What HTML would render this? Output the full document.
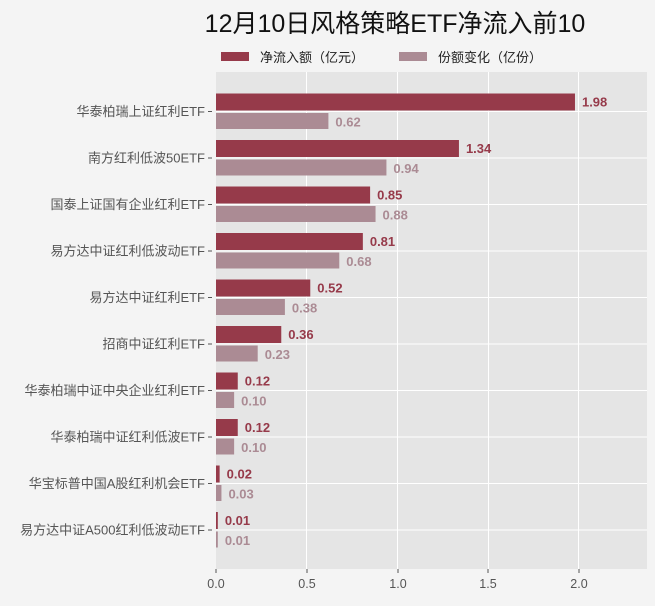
<!DOCTYPE html>
<html><head><meta charset="utf-8"><style>
html,body{margin:0;padding:0;background:#f4f4f4;}
svg{display:block;font-family:"Liberation Sans","Noto Sans CJK SC",sans-serif;}
</style></head><body>
<svg width="655" height="606" viewBox="0 0 655 606" xmlns="http://www.w3.org/2000/svg">
<rect width="655" height="606" fill="#f4f4f4"/>
<text x="395" y="32" text-anchor="middle" font-size="25" fill="#111">12月10日风格策略ETF净流入前10</text>
<rect x="221" y="52" width="28" height="9" fill="#963a4a"/>
<text x="260" y="62" font-size="13" fill="#222">净流入额（亿元）</text>
<rect x="399" y="52" width="28" height="9" fill="#ab8b94"/>
<text x="438" y="62" font-size="13" fill="#222">份额变化（亿份）</text>
<rect x="216" y="72" width="431" height="497" fill="#e5e5e5"/>
<g stroke="#fff" stroke-width="1">
<line x1="306.5" y1="72" x2="306.5" y2="569"/><line x1="397.5" y1="72" x2="397.5" y2="569"/>
<line x1="488.5" y1="72" x2="488.5" y2="569"/><line x1="578.5" y1="72" x2="578.5" y2="569"/>
<line x1="216" y1="111.5" x2="647" y2="111.5"/><line x1="216" y1="158" x2="647" y2="158"/>
<line x1="216" y1="204.5" x2="647" y2="204.5"/><line x1="216" y1="251" x2="647" y2="251"/>
<line x1="216" y1="297.5" x2="647" y2="297.5"/><line x1="216" y1="344" x2="647" y2="344"/>
<line x1="216" y1="390.5" x2="647" y2="390.5"/><line x1="216" y1="437" x2="647" y2="437"/>
<line x1="216" y1="483.5" x2="647" y2="483.5"/><line x1="216" y1="530" x2="647" y2="530"/>
</g>
<g id="bars" font-size="13" font-weight="bold"></g>
<g font-size="12.5" fill="#555" text-anchor="middle">
<text x="216" y="588">0.0</text><text x="307" y="588">0.5</text><text x="398" y="588">1.0</text><text x="488" y="588">1.5</text><text x="579" y="588">2.0</text>
</g>
<g stroke="#555"><line x1="216" y1="569" x2="216" y2="573"/><line x1="307" y1="569" x2="307" y2="573"/><line x1="398" y1="569" x2="398" y2="573"/><line x1="488" y1="569" x2="488" y2="573"/><line x1="579" y1="569" x2="579" y2="573"/></g>
<g id="labels" font-size="13" fill="#555" text-anchor="end"></g>
</svg>
<script>
var d=[["华泰柏瑞上证红利ETF",1.98,0.62],["南方红利低波50ETF",1.34,0.94],["国泰上证国有企业红利ETF",0.85,0.88],["易方达中证红利低波动ETF",0.81,0.68],["易方达中证红利ETF",0.52,0.38],["招商中证红利ETF",0.36,0.23],["华泰柏瑞中证中央企业红利ETF",0.12,0.10],["华泰柏瑞中证红利低波ETF",0.12,0.10],["华宝标普中国A股红利机会ETF",0.02,0.03],["易方达中证A500红利低波动ETF",0.01,0.01]];
var ns="http://www.w3.org/2000/svg",b=document.getElementById("bars"),l=document.getElementById("labels");
function el(p,t,a,txt){var e=document.createElementNS(ns,t);for(var k in a)e.setAttribute(k,a[k]);if(txt)e.textContent=txt;p.appendChild(e);}
d.forEach(function(r,i){var c=111.5+i*46.5,s=181.3;
el(b,"rect",{x:216,y:c-18,width:Math.max(r[1]*s,1),height:17,fill:"#963a4a"});
el(b,"rect",{x:216,y:c+1.5,width:Math.max(r[2]*s,1),height:16,fill:"#ab8b94"});
el(b,"text",{x:216+r[1]*s+7,y:c-5,fill:"#963a4a"},r[1].toFixed(2));
el(b,"text",{x:216+r[2]*s+7,y:c+15,fill:"#ab8b94"},r[2].toFixed(2));
el(l,"text",{x:205,y:c+4.5},r[0]);
el(l,"line",{x1:208,y1:c,x2:212,y2:c,stroke:"#555"});
});
</script>
</body></html>
